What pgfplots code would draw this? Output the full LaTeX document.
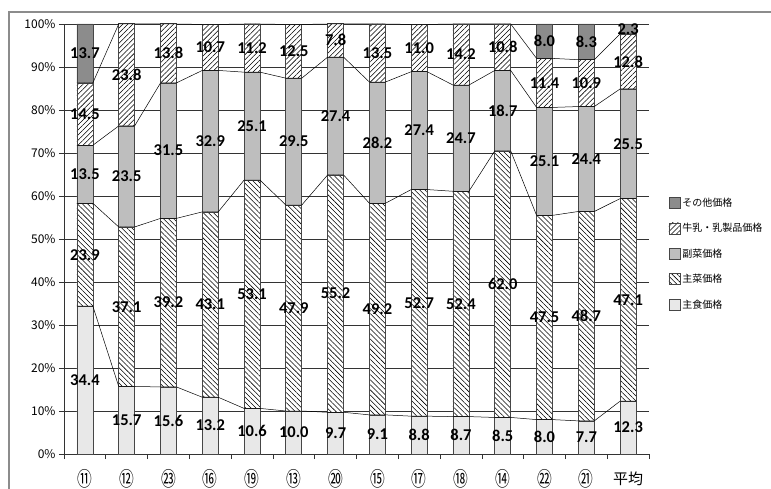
\documentclass[border=0pt]{standalone}
\usepackage{graphicx}
\usepackage{pgfplots}
\pgfplotsset{compat=1.18}
\usepackage{pgfplotstable}
\usetikzlibrary{patterns.meta}
\usepackage{fontspec}
\setmainfont{Noto Sans CJK JP}
\newfontfamily\lab{Carlito}
\newcommand\cn[1]{{\fontsize{18}{18}\selectfont\scalebox{0.82}[1.12]{#1}}}

\definecolor{shushoku}{RGB}{232,232,232}
\definecolor{fukusai}{RGB}{190,190,190}
\definecolor{sonota}{RGB}{140,140,140}
\definecolor{edge}{RGB}{70,70,70}

% 主食 a, 主菜 b, 副菜 c, 牛乳・乳製品 d, その他 e
\pgfplotstableread{
x a b c d e
0 34.4 23.9 13.5 14.5 13.7
1 15.7 37.1 23.5 23.8 0
2 15.6 39.2 31.5 13.8 0
3 13.2 43.1 32.9 10.7 0
4 10.6 53.1 25.1 11.2 0
5 10.0 47.9 29.5 12.5 0
6 9.7 55.2 27.4 7.8 0
7 9.1 49.2 28.2 13.5 0
8 8.8 52.7 27.4 11.0 0
9 8.7 52.4 24.7 14.2 0
10 8.5 62.0 18.7 10.8 0
11 8.0 47.5 25.1 11.4 8.0
12 7.7 48.7 24.4 10.9 8.3
13 12.3 47.1 25.5 12.8 2.3
}\data

% same values, one row for each edge of each bar (for the series lines)
\pgfplotstableread{
i s a b c d
0 -1 34.4 23.9 13.5 14.5
0 1 34.4 23.9 13.5 14.5
1 -1 15.7 37.1 23.5 23.8
1 1 15.7 37.1 23.5 23.8
2 -1 15.6 39.2 31.5 13.8
2 1 15.6 39.2 31.5 13.8
3 -1 13.2 43.1 32.9 10.7
3 1 13.2 43.1 32.9 10.7
4 -1 10.6 53.1 25.1 11.2
4 1 10.6 53.1 25.1 11.2
5 -1 10.0 47.9 29.5 12.5
5 1 10.0 47.9 29.5 12.5
6 -1 9.7 55.2 27.4 7.8
6 1 9.7 55.2 27.4 7.8
7 -1 9.1 49.2 28.2 13.5
7 1 9.1 49.2 28.2 13.5
8 -1 8.8 52.7 27.4 11.0
8 1 8.8 52.7 27.4 11.0
9 -1 8.7 52.4 24.7 14.2
9 1 8.7 52.4 24.7 14.2
10 -1 8.5 62.0 18.7 10.8
10 1 8.5 62.0 18.7 10.8
11 -1 8.0 47.5 25.1 11.4
11 1 8.0 47.5 25.1 11.4
12 -1 7.7 48.7 24.4 10.9
12 1 7.7 48.7 24.4 10.9
13 -1 12.3 47.1 25.5 12.8
13 1 12.3 47.1 25.5 12.8
}\lines

\pgfplotsset{
  base/.style={
    at={(0pt,0pt)}, anchor=south west,
    scale only axis, width=585pt, height=430pt,
    xmin=-0.5, xmax=13.5, ymin=0, ymax=100,
  },
  lbl/.style={draw=none, mark=none, point meta=explicit,
    nodes near coords={\pgfmathprintnumber[fixed,fixed zerofill,precision=1,assume math mode=true]{\pgfplotspointmeta}},
    nodes near coords align={center},
    every node near coord/.append style={font=\lab\bfseries\fontsize{16.5}{16.5}\selectfont, text=black, inner sep=0pt}},
}

\begin{document}
\begin{tikzpicture}
\useasboundingbox (-64pt,-34pt) rectangle (707pt,454pt);
\draw[black!45, line width=1.5pt] (-55pt,442pt) rectangle (740pt,-60pt);
\begin{axis}[base,
  ybar stacked, bar width=16pt,
  axis x line*=bottom, axis y line*=left,
  axis line style={-, black!80, line width=0.8pt},
  ymajorgrids, grid style={black!80, line width=0.7pt},
  ytick={0,10,...,100},
  /pgf/number format/assume math mode=true,
  yticklabel={\pgfmathprintnumber{\tick}\%},
  yticklabel style={font=\fontsize{12}{12}\selectfont, xshift=0pt},
  xtick={0,...,13},
  xticklabels={\cn{⑪},\cn{⑫},\cn{㉓},\cn{⑯},\cn{⑲},\cn{⑬},\cn{⑳},\cn{⑮},\cn{⑰},\cn{⑱},\cn{⑭},\cn{㉒},\cn{㉑},平均},
  xticklabel style={font=\fontsize{15}{15}\selectfont, anchor=center, inner sep=0pt, yshift=-20pt},
  minor xtick={-0.5,0.5,...,13.5},
  tick align=outside,
  major tick length=5pt, minor tick length=5pt,
  major x tick style={draw=none},
  tick style={black!80, line width=0.7pt},
  reverse legend,
  legend cell align=left,
  legend image code/.code={\draw[#1] (0pt,-5.5pt) rectangle (11pt,5.5pt);},
  legend style={at={(1.028,0.605)}, anchor=north west, draw=none, fill=none,
    font=\fontsize{10}{12}\selectfont, row sep=11.5pt,
    nodes={inner sep=2pt}},
]
\addplot[fill=shushoku, draw=edge, line width=0.7pt] table[x=x, y=a] {\data};
\addlegendentry{主食価格}
\addplot[fill=white, draw=edge, line width=0.7pt,
  postaction={pattern={Lines[angle=-45,distance=3.6pt,line width=0.55pt]}}] table[x=x, y=b] {\data};
\addlegendentry{主菜価格}
\addplot[fill=fukusai, draw=edge, line width=0.7pt] table[x=x, y=c] {\data};
\addlegendentry{副菜価格}
\addplot[fill=white, draw=edge, line width=0.7pt,
  postaction={pattern={Lines[angle=45,distance=3.6pt,line width=0.55pt]}}] table[x=x, y=d] {\data};
\addlegendentry{牛乳・乳製品価格}
\addplot[fill=sonota, draw=edge, line width=0.7pt] table[x=x, y=e] {\data};
\addlegendentry{その他価格}
\end{axis}
\begin{axis}[base, hide axis, clip=false]
\addplot[black, line width=0.5pt, mark=none] table[x expr=\thisrow{i}+0.19*\thisrow{s}, y expr=\thisrow{a}] {\lines};
\addplot[black, line width=0.5pt, mark=none] table[x expr=\thisrow{i}+0.19*\thisrow{s}, y expr=\thisrow{a}+\thisrow{b}] {\lines};
\addplot[black, line width=0.5pt, mark=none] table[x expr=\thisrow{i}+0.19*\thisrow{s}, y expr=\thisrow{a}+\thisrow{b}+\thisrow{c}] {\lines};
\addplot[black, line width=0.5pt, mark=none] table[x expr=\thisrow{i}+0.19*\thisrow{s}, y expr={min(100,\thisrow{a}+\thisrow{b}+\thisrow{c}+\thisrow{d})}] {\lines};
\addplot[lbl] table[x=x, y expr=\thisrow{a}/2, meta=a] {\data};
\addplot[lbl] table[x=x, y expr=\thisrow{a}+\thisrow{b}/2, meta=b] {\data};
\addplot[lbl] table[x=x, y expr=\thisrow{a}+\thisrow{b}+\thisrow{c}/2, meta=c] {\data};
\addplot[lbl] table[x=x, y expr=\thisrow{a}+\thisrow{b}+\thisrow{c}+\thisrow{d}/2, meta=d] {\data};
\addplot[lbl, restrict expr to domain={\thisrow{e}}{0.05:1000}] table[x=x, y expr=\thisrow{a}+\thisrow{b}+\thisrow{c}+\thisrow{d}+\thisrow{e}/2, meta=e] {\data};
\end{axis}
\end{tikzpicture}
\end{document}
